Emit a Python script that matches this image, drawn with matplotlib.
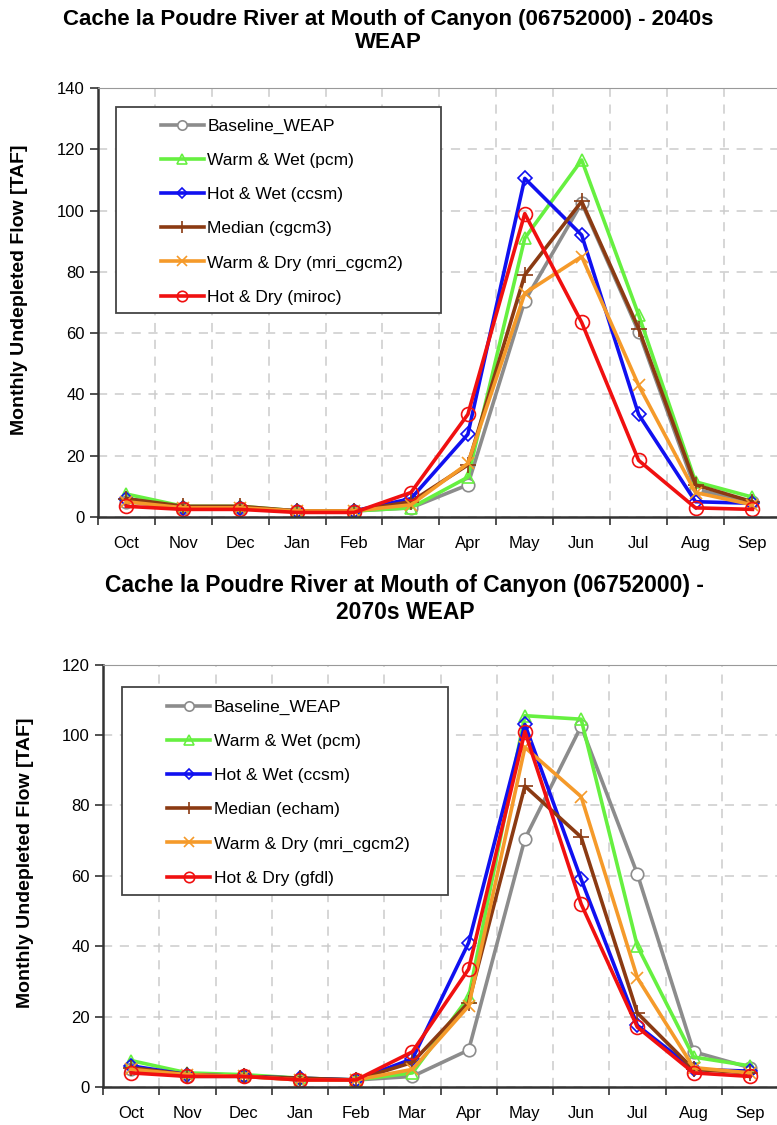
import numpy as np
import matplotlib
matplotlib.use('Agg')
import matplotlib.pyplot as plt
from matplotlib.patches import Rectangle

months = ['Oct', 'Nov', 'Dec', 'Jan', 'Feb', 'Mar', 'Apr', 'May', 'Jun', 'Jul', 'Aug', 'Sep']

# 2040s
labels_40 = ['Baseline_WEAP', 'Warm & Wet (pcm)', 'Hot & Wet (ccsm)', 'Median (cgcm3)',
             'Warm & Dry (mri_cgcm2)', 'Hot & Dry (miroc)']
base_40 = [5, 3, 3, 2, 2, 3, 10.5, 70.5, 102.5, 60.5, 9, 5]
ww_40 = [7.5, 3.5, 3.5, 2, 2, 3, 13, 91, 116.5, 66, 11.5, 6.5]
hw_40 = [6, 3, 3, 2, 2, 6, 27, 110.5, 92, 33.5, 5, 4.5]
med_40 = [6, 3.5, 3.5, 2, 2, 5, 17, 79, 103, 61.5, 10.5, 5]
wd_40 = [5, 3, 3, 2, 2, 4, 17.5, 73, 85, 43, 8, 4]
hd_40 = [3.5, 2.5, 2.5, 1.5, 1.5, 8, 33.5, 99, 63.5, 18.5, 3, 2.5]

# 2070s
labels_70 = ['Baseline_WEAP', 'Warm & Wet (pcm)', 'Hot & Wet (ccsm)', 'Median (echam)',
             'Warm & Dry (mri_cgcm2)', 'Hot & Dry (gfdl)']
base_70 = [5, 3, 3, 2, 2, 3, 10.5, 70.5, 102.5, 60.5, 10, 5.5]
ww_70 = [7.5, 4, 3.5, 2.5, 2, 4, 25.5, 105.5, 104.5, 40, 8.5, 6]
hw_70 = [6, 3.5, 3, 2.5, 2, 8, 41, 103, 59, 17.5, 5, 4.5]
med_70 = [5.5, 3.5, 3, 2.5, 2, 7, 24, 85.5, 71, 21, 5, 4]
wd_70 = [5, 3.5, 3, 2, 2, 5, 23, 96.5, 82.5, 31, 5.5, 4]
hd_70 = [4, 3, 3, 2, 2, 10, 33.5, 101, 52, 17, 4, 3]

colors = ['#8c8c8c', '#66f040', '#1010f0', '#8b3a12', '#f59a2a', '#f01010']
markers = ['o', '^', 'D', '+', 'x', 'o']
msizes = [9, 9, 7, 11, 9, 10]
faces = ['white', 'none', 'none', 'none', 'none', 'none']

title_40 = 'Cache la Poudre River at Mouth of Canyon (06752000) - 2040s\nWEAP'
title_70 = 'Cache la Poudre River at Mouth of Canyon (06752000) -\n2070s WEAP'
ylab = 'Monthly Undepleted Flow [TAF]'


def draw(ax, series, labels, ymax, box, leg_at):
    x = np.arange(len(months))
    for i, s in enumerate(series):
        ax.plot(x, s, color=colors[i], lw=2.6, marker=markers[i], ms=msizes[i],
                mfc=faces[i], mec=colors[i], mew=1.2, label=labels[i])
    ax.set_xlim(-0.5, len(months) - 0.5)
    ax.set_ylim(0, ymax)
    ax.set_yticks(np.arange(0, ymax + 1, 20))
    ax.set_xticks(np.arange(-0.5, len(months), 1))
    ax.set_xticklabels([])
    ax.set_xticks(x, minor=True)
    ax.set_xticklabels(months, minor=True)
    ax.tick_params(axis='x', which='minor', length=0, labelsize=12, pad=14)
    ax.tick_params(axis='x', which='major', length=6, width=1.2, color='#333333')
    ax.tick_params(axis='y', length=6, width=1.2, color='#333333', labelsize=12)
    ax.grid(True, which='major', ls=(0, (6, 5)), color='#cccccc', lw=1.1)
    ax.set_axisbelow(True)
    for sp in ['left', 'bottom']:
        ax.spines[sp].set_linewidth(1.8)
        ax.spines[sp].set_color('#333333')
    ax.spines['top'].set_color('#999999')
    ax.spines['right'].set_visible(False)
    ax.set_ylabel(ylab, fontsize=14, fontweight='bold')
    ax.yaxis.set_label_coords(-0.103, 0.53)
    # legend box drawn by hand, legend itself without frame
    ax.add_patch(Rectangle(box[:2], box[2], box[3], transform=ax.transAxes,
                           facecolor='white', edgecolor='#444444', lw=1.3, zorder=4))
    leg = ax.legend(loc='upper left', bbox_to_anchor=leg_at, frameon=False,
                    fontsize=12.5, labelspacing=1.095, handlelength=2.48,
                    handletextpad=0.2, borderpad=0, borderaxespad=0, markerscale=0.75)
    leg.set_zorder(5)


plt.rcParams['font.family'] = ['Liberation Sans', 'DejaVu Sans']
fig = plt.figure(figsize=(7.77, 11.25), dpi=100)

ax1 = fig.add_axes([0.126, 0.5404, 0.879, 0.3814])
draw(ax1, [base_40, ww_40, hw_40, med_40, wd_40, hd_40], labels_40, 140,
     (0.0264, 0.4755, 0.476, 0.480), (0.0922, 0.929))
fig.text(0.5, 0.9724, title_40, ha='center', va='center', fontsize=16,
         fontweight='bold', linespacing=1.15)

ax2 = fig.add_axes([0.1326, 0.0338, 0.8687, 0.3754])
draw(ax2, [base_70, ww_70, hw_70, med_70, wd_70, hd_70], labels_70, 120,
     (0.0281, 0.4545, 0.483, 0.4924), (0.0948, 0.9174))
fig.text(0.521, 0.4675, title_70, ha='center', va='center', fontsize=16.5,
         fontweight='bold', linespacing=1.2)

fig.savefig('out.png', dpi=100)
